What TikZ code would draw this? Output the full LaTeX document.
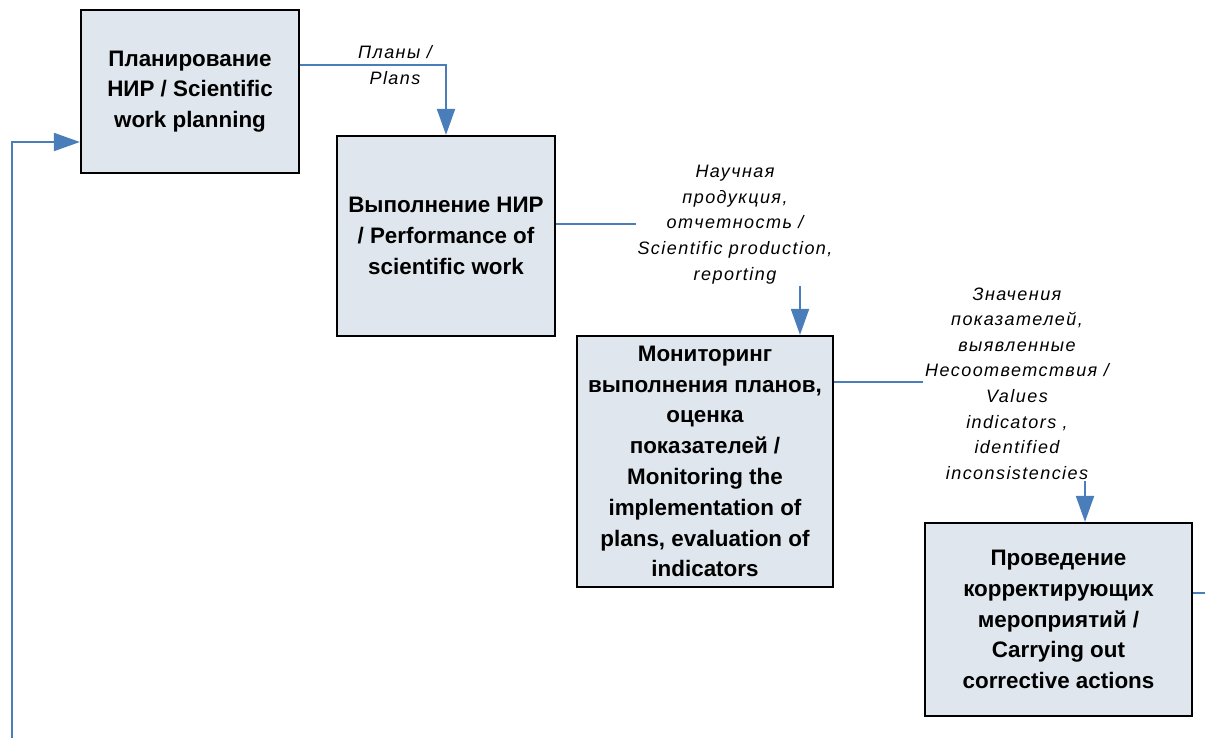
\documentclass[tikz,border=0pt]{standalone}
\usepackage{fontspec}
\setmainfont{Liberation Sans}
\newfontfamily\labelfont{Liberation Sans}[LetterSpace=8]
\usetikzlibrary{arrows.meta,positioning}
\definecolor{FlowBlue}{HTML}{4A7EBB}
\definecolor{BoxFill}{HTML}{DFE6EE}
\tikzset{
  >={Triangle[length=13pt,width=9pt]},
  flow/.style={->,line width=1pt,draw=FlowBlue},
  plainflow/.style={line width=1pt,draw=FlowBlue},
  box/.style={draw=black,fill=BoxFill,line width=1.1pt,align=center,
    inner sep=2pt,font=\bfseries\fontsize{11.2}{15.4}\selectfont},
  flowlabel/.style={align=center,inner sep=1pt,
    font=\labelfont\itshape\fontsize{9}{12.8}\selectfont}
}

\begin{document}
\begin{tikzpicture}[x=0.5pt,y=-0.5pt]
  \useasboundingbox (0,0) rectangle (1205,738);
  \node[box,minimum width=109pt,minimum height=81.5pt] (plan) at (190,91.5)
    {Планирование\\НИР / Scientific\\work planning};
  \node[box,minimum width=109pt,minimum height=100pt] (exec) at (446,236)
    {Выполнение НИР\\/ Performance of\\scientific work};
  \node[box,minimum width=128pt,minimum height=125.5pt] (monitor) at (705,461.5)
    {Мониторинг\\выполнения планов,\\оценка\\показателей /\\Monitoring the\\implementation of\\plans, evaluation of\\indicators};
  \node[box,minimum width=133.5pt,minimum height=96.5pt] (correct) at (1058.5,619.5)
    {Проведение\\корректирующих\\мероприятий /\\Carrying out\\corrective actions};
  \coordinate (loopout) at (1205,593);
  \coordinate (loopin) at (12,738);
  % flows between the stages
  \draw[flow] (plan.east |- 0,65) -| (exec.north);
  \draw[flow] (exec.east |- 0,224) -| (monitor.north -| 800,0);
  \draw[flow] (monitor.east |- 0,382) -| (correct.north -| 1085,0);
  \draw[plainflow] (correct.east |- 0,593) -- (loopout);
  \draw[flow] (loopin) |- (plan.west |- 0,142);
  % labels
  \node[flowlabel] (plans) at (395,65) {Планы /\\Plans};
  \node[flowlabel,fill=white] (output) at (735,224.5)
    {Научная\\продукция,\\отчетность /\\Scientific production,\\reporting};
  \node[flowlabel,fill=white] (values) at (1017,383.5)
    {Значения\\показателей,\\выявленные\\Несоответствия /\\Values\\indicators ,\\identified\\inconsistencies};
\end{tikzpicture}
\end{document}
